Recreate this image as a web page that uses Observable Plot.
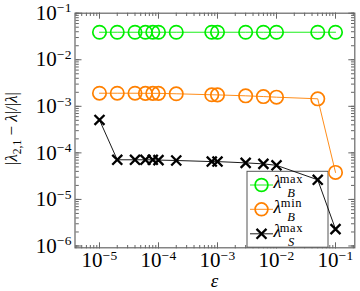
<!DOCTYPE html>
<html><head><meta charset="utf-8">
<script src="https://cdn.jsdelivr.net/npm/d3@7"></script>
<script src="https://cdn.jsdelivr.net/npm/@observablehq/plot@0.6"></script>
<style>
body{margin:0;background:#fff;}
#chart{position:relative;width:360px;height:291px;}
svg{overflow:visible}
</style></head><body><div id="chart"></div>
<script>
// ---- data ----
const eps = [1e-5, 2e-5, 4e-5, 6e-5, 8e-5, 1e-4, 2e-4, 8e-4, 1e-3, 3e-3, 6e-3, 1e-2, 5e-2, 1e-1];
const lambdaBmax = [0.039, 0.039, 0.039, 0.039, 0.039, 0.039, 0.039, 0.039, 0.039, 0.039, 0.039, 0.039, 0.039, 0.039];
const lambdaBmin = [1.91e-3, 1.91e-3, 1.91e-3, 1.9e-3, 1.9e-3, 1.9e-3, 1.86e-3, 1.77e-3, 1.76e-3, 1.68e-3, 1.62e-3, 1.57e-3, 1.45e-3, 3.8e-5];
const lambdaSmax = [5.1e-4, 7.1e-5, 7.1e-5, 7.1e-5, 7.1e-5, 7.0e-5, 6.86e-5, 6.5e-5, 6.5e-5, 6.1e-5, 5.8e-5, 5.4e-5, 2.64e-5, 2.3e-6];
const seriesNames = ["λB max", "λB min", "λS max"];
const xTicks = [1e-5, 1e-4, 1e-3, 1e-2, 1e-1];
const yTicks = [1e-6, 1e-5, 1e-4, 1e-3, 1e-2, 1e-1];
const xDomain = [Math.pow(10, -5.415), Math.pow(10, -0.673)];
const yDomain = [Math.pow(10, -6.039), 1e-1];

const green = "#00ee00", orange = "#ff8000", black = "#000";
const axisColor = "#666";

const rows = (ys) => eps.map((e, i) => ({x: e, y: ys[i]}));
const dBmax = rows(lambdaBmax), dBmin = rows(lambdaBmin), dSmax = rows(lambdaSmax);

const sup = (d) => "10^" + String(Math.round(Math.log10(d))).replace("-", "−");
const blank = () => "";

const chart = Plot.plot({
  width: 360, height: 291,
  marginLeft: 74.5, marginRight: 5.7, marginTop: 12.7, marginBottom: 43.7,
  style: {fontFamily: "'Liberation Serif', serif", background: "white", color: "black"},
  x: {type: "log", domain: xDomain},
  y: {type: "log", domain: yDomain},
  marks: [
    // minor ticks (inward, all four sides)
    Plot.axisX({anchor: "top", frameAnchor: "bottom", ticks: 40, tickSize: 3.3, tickFormat: blank, stroke: axisColor, label: null}),
    Plot.axisX({anchor: "bottom", frameAnchor: "top", ticks: 40, tickSize: 3.3, tickFormat: blank, stroke: axisColor, label: null}),
    Plot.axisY({anchor: "right", frameAnchor: "left", ticks: 40, tickSize: 3.3, tickFormat: blank, stroke: axisColor, label: null}),
    Plot.axisY({anchor: "left", frameAnchor: "right", ticks: 40, tickSize: 3.3, tickFormat: blank, stroke: axisColor, label: null}),
    // major ticks
    Plot.axisX({anchor: "top", frameAnchor: "bottom", ticks: xTicks, tickSize: 6, tickFormat: blank, stroke: axisColor, label: null}),
    Plot.axisX({anchor: "bottom", frameAnchor: "top", ticks: xTicks, tickSize: 6, tickFormat: blank, stroke: axisColor, label: null}),
    Plot.axisY({anchor: "right", frameAnchor: "left", ticks: yTicks, tickSize: 6, tickFormat: blank, stroke: axisColor, label: null}),
    Plot.axisY({anchor: "left", frameAnchor: "right", ticks: yTicks, tickSize: 6, tickFormat: blank, stroke: axisColor, label: null}),
    // tick labels
    Plot.axisX({anchor: "bottom", ticks: xTicks, tickSize: 0, tickPadding: 4.7, tickFormat: sup, fontSize: 21, label: null}),
    Plot.axisY({anchor: "left", ticks: yTicks, tickSize: 0, tickPadding: 3, tickFormat: sup, fontSize: 21, label: null}),
    Plot.frame({stroke: axisColor, strokeWidth: 1.2}),
    // data
    Plot.line(dBmax, {x: "x", y: "y", stroke: green, strokeWidth: 0.9}),
    Plot.dot(dBmax, {x: "x", y: "y", r: 6.7, stroke: green, strokeWidth: 1.7, fill: "none"}),
    Plot.line(dBmin, {x: "x", y: "y", stroke: orange, strokeWidth: 0.9}),
    Plot.dot(dBmin, {x: "x", y: "y", r: 6.7, stroke: orange, strokeWidth: 1.7, fill: "none"}),
    Plot.line(dSmax, {x: "x", y: "y", stroke: black, strokeWidth: 0.9}),
    Plot.dot(dSmax, {x: "x", y: "y", r: 4.6, symbol: "times", stroke: black, strokeWidth: 2.3})
  ]
});

const svg = d3.select(chart);

// superscript exponents in tick labels
svg.selectAll('g[aria-label$="tick label"] text').each(function () {
  const s = this.textContent;
  if (!s.includes("^")) return;
  const [b, e] = s.split("^");
  const t = d3.select(this);
  t.text(b);
  t.append("tspan").attr("dy", -7.5).attr("font-size", 13.5).attr("letter-spacing", 0.4).text(e);
});

// legend (drawn beneath data marks)
const firstData = chart.querySelector('g[aria-label="line"]');
const lg = d3.create("svg:g").attr("font-family", "'Liberation Serif', serif");
lg.append("rect").attr("x", 247).attr("y", 171.3).attr("width", 81).attr("height", 75.9)
  .attr("fill", "white").attr("stroke", "#555").attr("stroke-width", 1);
const legendItems = [
  {name: seriesNames[0], color: green, sym: "circle", sub: "B", sup: "max"},
  {name: seriesNames[1], color: orange, sym: "circle", sub: "B", sup: "min"},
  {name: seriesNames[2], color: black, sym: "times", sub: "S", sup: "max"}
];
const rowY = [185, 209.3, 233.8];
legendItems.forEach((it, i) => {
  const y = rowY[i];
  lg.append("line").attr("x1", 250).attr("x2", 273).attr("y1", y).attr("y2", y)
    .attr("stroke", it.color).attr("stroke-width", 0.9);
  if (it.sym === "circle") {
    lg.append("circle").attr("cx", 261.5).attr("cy", y).attr("r", 6.4)
      .attr("fill", "none").attr("stroke", it.color).attr("stroke-width", 1.7);
  } else {
    lg.append("path").attr("d", d3.symbol(d3.symbolTimes, Math.PI * 4.6 * 4.6)())
      .attr("transform", `translate(261.5,${y})`).attr("fill", "none")
      .attr("stroke", it.color).attr("stroke-width", 2.3);
  }
  const base = y + 3.2;
  lg.append("text").attr("x", 277.5).attr("y", base).attr("font-size", 18).attr("font-style", "italic").text("λ");
  lg.append("text").attr("x", 291.5).attr("y", base - 5.5).attr("font-size", 12.5).attr("letter-spacing", 0.7).text(it.sup);
  lg.append("text").attr("x", 291).attr("y", base + 8.6).attr("font-size", 12.5).attr("font-style", "italic").text(it.sub);
});
chart.insertBefore(lg.node(), firstData);

// axis labels
svg.append("text").attr("x", 214.5).attr("y", 287).attr("text-anchor", "middle")
  .attr("font-family", "'Liberation Serif', serif").attr("font-size", 19).attr("font-style", "italic").text("ε");
const yl = svg.append("text").attr("transform", "translate(17,128.5) rotate(-90)")
  .attr("text-anchor", "middle").attr("font-family", "'Liberation Serif', serif").attr("font-size", 17);
yl.append("tspan").text("|");
yl.append("tspan").attr("font-style", "italic").text("λ");
yl.append("tspan").attr("font-size", 11.5).attr("dy", 3.5).text("2,1");
yl.append("tspan").attr("dy", -3.5).text(" − ");
yl.append("tspan").attr("font-style", "italic").text("λ");
yl.append("tspan").text("|/|");
yl.append("tspan").attr("font-style", "italic").text("λ");
yl.append("tspan").text("|");

document.getElementById("chart").appendChild(chart);
</script></body></html>
